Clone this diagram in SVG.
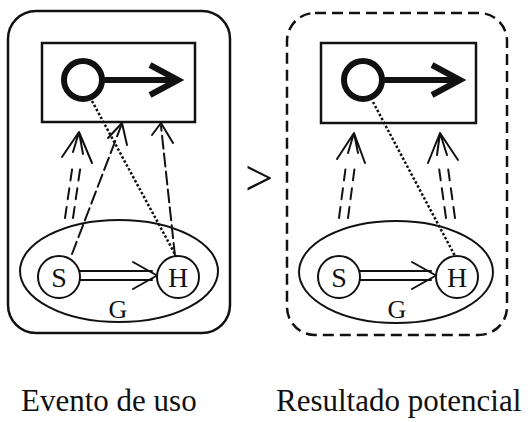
<svg xmlns="http://www.w3.org/2000/svg" width="528" height="422" viewBox="0 0 528 422">
<style>
.ln{fill:none;stroke:#111;stroke-linecap:round;stroke-linejoin:round}
.box{fill:none;stroke:#111;stroke-width:2.5}
.thin{fill:none;stroke:#111;stroke-width:2}
.ring{fill:none;stroke:#111;stroke-width:6}
.bold{fill:none;stroke:#111;stroke-width:6;stroke-linecap:butt;stroke-linejoin:miter}
.dash2{stroke-dasharray:11 8;stroke-width:2}
.dashL{stroke-dasharray:13 5;stroke-width:2}
.dot{stroke-dasharray:2.5 2;stroke-width:2.5;stroke-linecap:butt}
text{fill:#111}
</style>

<g id="usage-event">
  <rect class="box" x="8" y="11" width="222" height="322" rx="28"/>
  <g id="usage-outcome">
    <rect class="box" x="42" y="43" width="153" height="79"/>
    <circle class="ring" cx="83" cy="80" r="19"/>
    <line class="bold" x1="104" y1="80" x2="174" y2="80"/>
    <path class="bold" d="M150,65 L178,80 L150,95"/>
  </g>
  <g id="usage-G">
    <ellipse class="thin" cx="119" cy="271" rx="99" ry="51"/>
    <text x="118" y="318" font-family="Liberation Serif, DejaVu Serif, serif" font-size="26" text-anchor="middle">G</text>
  </g>
  <g id="usage-S">
    <circle class="thin" cx="59" cy="277" r="21"/>
    <text x="59" y="287" font-family="Liberation Serif, DejaVu Serif, serif" font-size="28" text-anchor="middle">S</text>
  </g>
  <g id="usage-H">
    <circle class="thin" cx="178" cy="277" r="21"/>
    <text x="178" y="287" font-family="Liberation Serif, DejaVu Serif, serif" font-size="28" text-anchor="middle">H</text>
  </g>
</g>

<g id="potential-outcome">
  <rect class="box" x="287" y="13" width="220" height="322" rx="28" stroke-width="3" stroke-dasharray="11 6"/>
  <g id="potential-result">
    <rect class="box" x="321" y="43" width="155" height="80"/>
    <circle class="ring" cx="363" cy="80" r="19"/>
    <line class="bold" x1="384" y1="80" x2="456" y2="80"/>
    <path class="bold" d="M432,65 L460,80 L432,95"/>
  </g>
  <g id="potential-G">
    <ellipse class="thin" cx="396" cy="272" rx="97" ry="51"/>
    <text x="397" y="318" font-family="Liberation Serif, DejaVu Serif, serif" font-size="26" text-anchor="middle">G</text>
  </g>
  <g id="potential-S">
    <circle class="thin" cx="339" cy="277" r="21"/>
    <text x="339" y="287" font-family="Liberation Serif, DejaVu Serif, serif" font-size="28" text-anchor="middle">S</text>
  </g>
  <g id="potential-H">
    <circle class="thin" cx="457" cy="277" r="21"/>
    <text x="457" y="287" font-family="Liberation Serif, DejaVu Serif, serif" font-size="28" text-anchor="middle">H</text>
  </g>
</g>

<g id="connectors">
  <line class="ln" x1="80" y1="271" x2="152" y2="271" stroke-width="2"/>
  <line class="ln" x1="80" y1="280" x2="152" y2="280" stroke-width="2"/>
  <path class="ln" d="M133,262 L157,275.5 L133,289" stroke-width="2"/>
  <line class="ln dash2" x1="65" y1="218" x2="73" y2="163"/>
  <line class="ln dash2" x1="73" y1="218" x2="81" y2="163"/>
  <path class="ln" d="M62,157 L79,132 L92,163 M79,132 L73,152 M79,132 L83,154" stroke-width="2"/>
  <line class="ln dashL" x1="72" y1="254" x2="121" y2="126"/>
  <path class="ln" d="M108,138 L122,123 L127,145" stroke-width="2"/>
  <line class="ln dashL" x1="175" y1="256" x2="161" y2="126"/>
  <path class="ln" d="M152,135 L161,123 L173,143" stroke-width="2"/>
  <line class="ln dot" x1="92" y1="101" x2="176" y2="256"/>

  <line class="ln" x1="360" y1="271" x2="431" y2="271" stroke-width="2"/>
  <line class="ln" x1="360" y1="280" x2="431" y2="280" stroke-width="2"/>
  <path class="ln" d="M412,262 L436,275.5 L412,289" stroke-width="2"/>
  <line class="ln dash2" x1="339" y1="218" x2="346" y2="165"/>
  <line class="ln dash2" x1="348" y1="218" x2="355" y2="165"/>
  <path class="ln" d="M337,159 L354,133 L365,163 M354,133 L348,153 M354,133 L358,153" stroke-width="2"/>
  <line class="ln dash2" x1="446" y1="218" x2="439" y2="168"/>
  <line class="ln dash2" x1="455" y1="218" x2="448" y2="168"/>
  <path class="ln" d="M428,163 L440,133 L458,160 M440,133 L437,155 M440,133 L447,155" stroke-width="2"/>
  <line class="ln dot" x1="373" y1="102" x2="455" y2="256"/>
</g>

<text x="259" y="195" font-family="Liberation Serif, DejaVu Serif, serif" font-size="50" text-anchor="middle">&gt;</text>
<text x="21" y="411" font-family="Liberation Serif, DejaVu Serif, serif" font-size="31">Evento de uso</text>
<text x="276" y="411" font-family="Liberation Serif, DejaVu Serif, serif" font-size="31">Resultado potencial</text>
</svg>
